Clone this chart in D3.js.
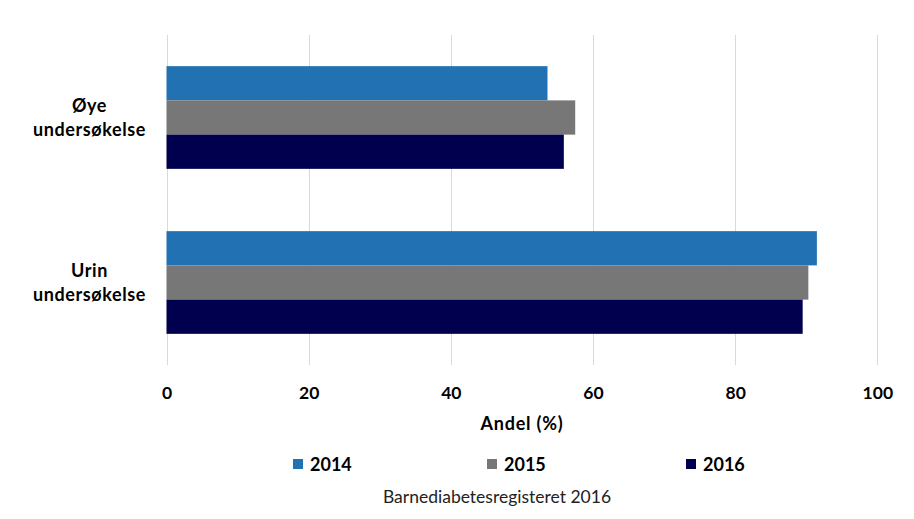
<!DOCTYPE html>
<html><head><meta charset="utf-8">
<script src="https://cdn.jsdelivr.net/npm/d3@7"></script>
<style>body{margin:0;background:#fff}svg{display:block}text{font-family:Lato,"Open Sans",sans-serif}</style>
</head><body><svg id="c" width="914" height="519"></svg>
<script>
const categories = ["Øye undersøkelse", "Urin undersøkelse"];
const categoryLines = [["Øye", "undersøkelse"], ["Urin", "undersøkelse"]];
const years = ["2014", "2015", "2016"];
const values2014 = [53.6, 91.5];
const values2015 = [57.5, 90.3];
const values2016 = [55.9, 89.5];
const xTicks = [0, 20, 40, 60, 80, 100];
const colors = ["#2271b3", "#777777", "#00004f"];

const series = [values2014, values2015, values2016];
const svg = d3.select("#c");
const pLeft = 166.5, pRight = 877.3, pTop = 35, pBottom = 365;

const x = d3.scaleLinear().domain([0, 100]).range([pLeft, pRight]);
const y = d3.scaleBand().domain(categories).range([pTop, pBottom]).paddingInner(0.3776).paddingOuter(0.1888);
const ySub = d3.scaleBand().domain(years).range([0, y.bandwidth()]);

// grid
svg.append("g").selectAll("line").data(xTicks).join("line")
  .attr("x1", d => Math.round(x(d)) + 0.5).attr("x2", d => Math.round(x(d)) + 0.5)
  .attr("y1", pTop).attr("y2", pBottom)
  .attr("stroke", "#d9d9d9").attr("stroke-width", 1);

// bars
categories.forEach((c, ci) => {
  svg.append("g").selectAll("rect").data(years).join("rect")
    .attr("x", x(0))
    .attr("y", (d) => y(c) + ySub(d))
    .attr("width", (d, i) => x(series[i][ci]) - x(0))
    .attr("height", ySub.bandwidth())
    .attr("fill", (d, i) => colors[i]);
});

// x axis
const xAxis = d3.axisBottom(x).tickValues(xTicks).tickSize(0).tickPadding(0);
const gx = svg.append("g").attr("transform", `translate(0,${pBottom})`).call(xAxis);
gx.select(".domain").remove();
gx.selectAll("text").attr("dy", null).attr("y", 34)
  .attr("font-size", 17.5).attr("font-weight", "bold").attr("fill", "#000")
  .attr("font-family", "Lato, sans-serif");

// y labels
categories.forEach((c, ci) => {
  const cy = y(c) + y.bandwidth() / 2;
  const t = svg.append("text").attr("x", 89.5).attr("text-anchor", "middle")
    .attr("font-size", 18).attr("font-weight", "bold").attr("fill", "#000")
    .attr("letter-spacing", 0.6);
  categoryLines[ci].forEach((ln, li) => {
    t.append("tspan").attr("x", 89.5).attr("y", cy - 12 + li * 24 + 6).text(ln);
  });
});

// axis title
svg.append("text").attr("x", 522).attr("y", 430).attr("text-anchor", "middle")
  .attr("font-size", 18).attr("font-weight", "bold").attr("letter-spacing", 0.8).text("Andel (%)");

// legend
const legendX = [293, 487, 686];
const lg = svg.append("g").selectAll("g").data(years).join("g")
  .attr("transform", (d, i) => `translate(${legendX[i]},459)`);
lg.append("rect").attr("width", 10).attr("height", 10).attr("fill", (d, i) => colors[i]);
lg.append("text").attr("x", 17).attr("y", 11.5).attr("font-size", 18).attr("font-weight", "bold").text(d => d);

// caption
svg.append("text").attr("x", 497).attr("y", 503).attr("text-anchor", "middle")
  .attr("font-size", 17.5).attr("fill", "#222").text("Barnediabetesregisteret 2016");
</script></body></html>
